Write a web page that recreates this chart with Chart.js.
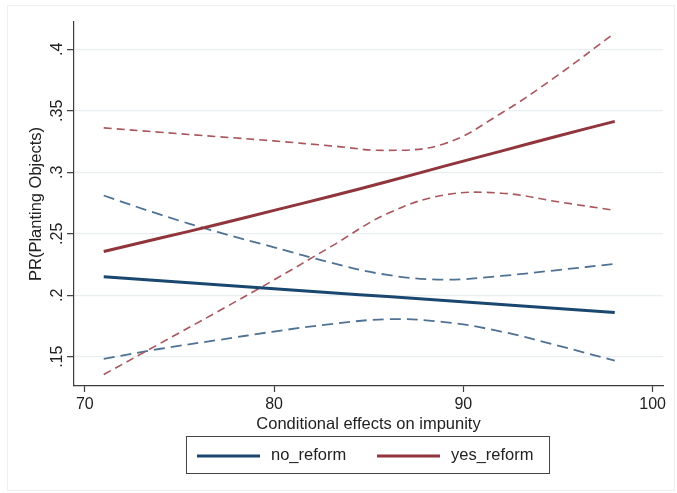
<!DOCTYPE html>
<html>
<head>
<meta charset="utf-8">
<script src="https://cdn.jsdelivr.net/npm/chart.js@4.4.1/dist/chart.umd.min.js"></script>
<style>
  html, body { margin: 0; padding: 0; background: #fff; }
</style>
</head>
<body>
<canvas id="chart" width="677" height="493"></canvas>
<script>
// values
const xVals = [71, 74, 77, 80, 83, 86, 89, 92, 95, 98];
const noReform   = [.2150, .2117, .2085, .2053, .2021, .1989, .1957, .1925, .1893, .1860];
const noReformHi = [.2811, .2655, .2515, .2390, .2265, .2165, .2127, .2157, .2205, .2255];
const noReformLo = [.1482, .1565, .1635, .1705, .1765, .1805, .1782, .1705, .1590, .1468];
const yesReform   = [.2356, .2465, .2575, .2690, .2805, .2925, .3050, .3172, .3295, .3414];
const yesReformHi = [.3361, .3325, .3290, .3255, .3215, .3178, .3232, .3480, .3790, .4133];
const yesReformLo = [.1355, .1610, .1865, .2125, .2395, .2665, .2815, .2830, .2760, .2690];

const seriesNames = ['no_reform', 'yes_reform'];
const xTickVals = [70, 80, 90, 100];
const yTickVals = [.15, .2, .25, .3, .35, .4];
const yTickLabels = ['.15', '.2', '.25', '.3', '.35', '.4'];

const NAVY = '#1a476f', NAVY_CI = '#4f7293';
const MAROON = '#90353b', MAROON_CI = '#a9565c';
const FONT = '"Liberation Sans", Arial, Helvetica, sans-serif';
const TEXT = '#222';

const pts = arr => arr.map((y, i) => ({ x: xVals[i], y: y }));

function line(label, data, color, width, dash) {
  return {
    label: label,
    data: pts(data),
    borderColor: color,
    backgroundColor: color,
    borderWidth: width,
    borderDash: dash || [],
    pointRadius: 0,
    fill: false,
    tension: 0.4
  };
}

// solid lines first so they are drawn on top
const datasets = [
  line(seriesNames[1], yesReform, MAROON, 3),
  line(seriesNames[0], noReform, NAVY, 3),
  line('yes_hi', yesReformHi, MAROON_CI, 1.6, [8, 5]),
  line('yes_lo', yesReformLo, MAROON_CI, 1.6, [8, 5]),
  line('no_hi', noReformHi, NAVY_CI, 1.8, [11, 6]),
  line('no_lo', noReformLo, NAVY_CI, 1.8, [11, 6])
];

const decor = {
  id: 'decor',
  beforeDraw(chart) {
    const c = chart.ctx;
    c.save();
    c.fillStyle = '#fff';
    c.fillRect(0, 0, chart.width, chart.height);
    c.strokeStyle = '#efefef';
    c.lineWidth = 1;
    c.strokeRect(7.5, 5.5, 667, 485);
    c.restore();
  },
  afterDraw(chart) {
    const c = chart.ctx;
    const ys = chart.scales.y;
    c.save();
    // rotated y tick labels
    c.font = '16px ' + FONT;
    c.fillStyle = TEXT;
    c.textAlign = 'center';
    c.textBaseline = 'middle';
    yTickVals.forEach((v, i) => {
      c.save();
      c.translate(58, ys.getPixelForValue(v));
      c.rotate(-Math.PI / 2);
      c.fillText(yTickLabels[i], 0, 0);
      c.restore();
    });

    // legend box
    c.strokeStyle = '#444';
    c.lineWidth = 1;
    c.strokeRect(186.5, 436.5, 363, 37);
    const items = [
      { name: seriesNames[0], color: NAVY, x: 197 },
      { name: seriesNames[1], color: MAROON, x: 377 }
    ];
    c.font = '16.5px ' + FONT;
    c.textAlign = 'left';
    items.forEach(it => {
      c.strokeStyle = it.color;
      c.lineWidth = 3;
      c.beginPath();
      c.moveTo(it.x, 456);
      c.lineTo(it.x + 63, 456);
      c.stroke();
      c.fillStyle = TEXT;
      c.fillText(it.name, it.x + 74, 455);
    });
    c.restore();
  }
};

new Chart(document.getElementById('chart'), {
  type: 'line',
  data: { datasets: datasets },
  plugins: [decor],
  options: {
    responsive: false,
    animation: false,
    devicePixelRatio: 1,
    layout: { padding: { left: 0, right: 14, top: 22, bottom: 0 } },
    plugins: {
      legend: { display: false },
      tooltip: { enabled: false }
    },
    scales: {
      x: {
        type: 'linear',
        min: 69.43,
        max: 100.55,
        afterBuildTicks: s => { s.ticks = xTickVals.map(v => ({ value: v })); },
        afterFit: s => { s.height = 107; },
        border: { color: '#3c3c3c', width: 1.2 },
        grid: { drawOnChartArea: false, drawTicks: true, tickLength: 6, tickColor: '#3c3c3c', tickWidth: 1.2 },
        ticks: {
          padding: 3,
          color: TEXT,
          font: { family: FONT, size: 16 },
          maxRotation: 0,
          autoSkip: false
        },
        title: {
          display: true,
          text: 'Conditional effects on impunity',
          color: TEXT,
          font: { family: FONT, size: 16.5 },
          padding: { top: 0, bottom: 59 }
        }
      },
      y: {
        min: 0.1262,
        max: 0.4222,
        afterBuildTicks: s => { s.ticks = yTickVals.map(v => ({ value: v })); },
        afterFit: s => { s.width = 74; },
        border: { color: '#3c3c3c', width: 1.2 },
        grid: { color: '#e9eff1', lineWidth: 1.3, drawTicks: true, tickLength: 7, tickColor: '#3c3c3c', tickWidth: 1.2 },
        ticks: { display: false },
        title: {
          display: true,
          text: 'PR(Planting Objects)',
          color: TEXT,
          font: { family: FONT, size: 16.5 },
          padding: { top: 27, bottom: 0 }
        }
      }
    }
  }
});
</script>
</body>
</html>
